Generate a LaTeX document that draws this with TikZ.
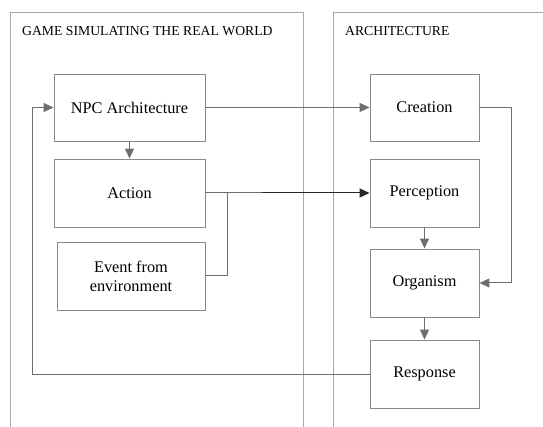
\documentclass[tikz,border=0pt]{standalone}
\usepackage{fontspec}
\setmainfont{Liberation Serif}
\usetikzlibrary{arrows.meta}
\definecolor{lanegray}{HTML}{A8A8A8}
\definecolor{boxgray}{HTML}{8A8A8A}
\definecolor{linkgray}{HTML}{6E6E6E}
\begin{document}
\begin{tikzpicture}[x=1pt,y=-1pt,
  lane/.style={draw=lanegray,line width=0.9pt},
  block/.style={draw=boxgray,line width=0.9pt,fill=white,inner sep=0pt,
    align=center,font=\fontsize{16.3}{19}\selectfont},
  title/.style={anchor=west,inner sep=0pt,font=\fontsize{13.7}{16}\selectfont},
  link/.style={draw=linkgray,line width=1pt,-{Triangle[length=10pt,width=9pt]}},
  plain/.style={draw=linkgray,line width=1pt}]
\useasboundingbox (0,0) rectangle (543,427);
\fill[white] (0,0) rectangle (543,427);

% swimlanes (open at the bottom / right)
\draw[lane] (10,427) -- (10,12) -- (303,12) -- (303,427);
\draw[lane] (333,427) -- (333,12) -- (545,12);
\node[title] (t1) at (22,31) {GAME SIMULATING THE REAL WORLD};
\node[title] (t2) at (345,31) {ARCHITECTURE};

% left lane blocks
\node[block,minimum width=151pt,minimum height=67pt] (npc) at (129.5,107.5) {NPC Architecture};
\node[block,minimum width=151pt,minimum height=68pt] (act) at (129.5,193) {Action};
\node[block,minimum width=148pt,minimum height=68pt] (evt) at (131,276) {Event from\\environment};

% right lane blocks
\node[block,minimum width=109pt,minimum height=67pt] (cre) at (424.5,107.5) {Creation};
\node[block,minimum width=109pt,minimum height=68pt] (per) at (424.5,193) {Perception};
\node[block,minimum width=109pt,minimum height=68pt] (org) at (424.5,283) {Organism};
\node[block,minimum width=109pt,minimum height=68pt] (res) at (424.5,374) {Response};

\coordinate (join) at (227,193);
\coordinate (actend) at (262,193);

% connectors
\draw[link] (npc.east) -- (cre.west);
\draw[link] (npc.south) -- (act.north);
\draw[link,draw=black!85] (join) -- (per.west);
\draw[plain] (act.east) -- (actend);
\draw[plain] (evt.east) -| (join);
\draw[link] (cre.east) -- ++(32,0) |- (org.east);
\draw[link] (per.south) -- (org.north);
\draw[link] (org.south) -- (res.north);
\draw[link] (res.west) -- (32,374) |- (npc.west);
\end{tikzpicture}
\end{document}
